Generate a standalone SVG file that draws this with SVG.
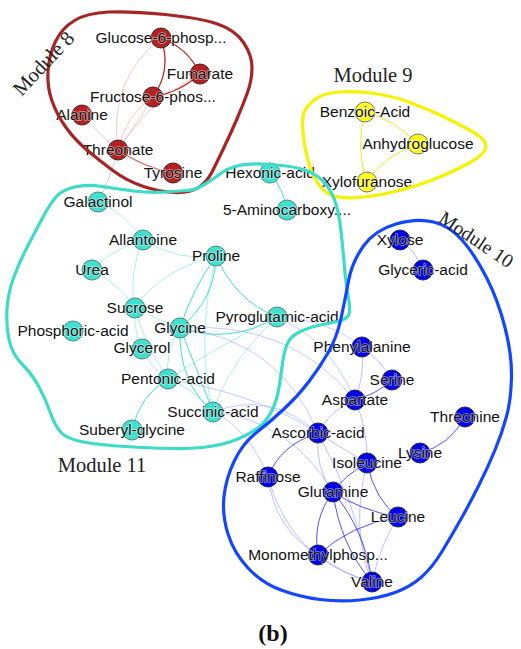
<svg xmlns="http://www.w3.org/2000/svg" width="521" height="649" viewBox="0 0 521 649">
<style>
text{font-family:"Liberation Sans",Arial,sans-serif;font-size:15.5px;fill:#111;text-anchor:middle;stroke:#ffffff;stroke-width:1.6px;stroke-opacity:.55;paint-order:stroke;stroke-linejoin:round}
.mod{font-family:"Liberation Serif","Times New Roman",serif;font-size:20.5px;fill:#222;stroke:none}
.cap{font-family:"Liberation Serif","Times New Roman",serif;font-size:24px;font-weight:bold;fill:#111;stroke:none}
.n8{fill:#b22222;stroke:#5a1a1a;stroke-width:1}
.n9{fill:#ffff1a;stroke:#777;stroke-width:1}
.n11{fill:#40e0d0;stroke:#4a8a84;stroke-width:1}
.n10{fill:#0000e6;stroke:#222266;stroke-width:1}
.e{fill:none;stroke-width:1}
.r{stroke:#b82a2a;stroke-width:1.3}
.rf{stroke:#e6a6a6;opacity:.6}
.y{stroke:#eaea20}
.t{stroke:#40e0d0}
.tf{stroke:#40e0d0;opacity:.45}
.lb{stroke:#7a8cff;opacity:.45}
.b{stroke:#3333ff;opacity:.85}
.bf{stroke:#8888ff;opacity:.55}
.hull{fill:none;stroke-width:3.2}
</style>
<g id="connectors">
<path class="e r" d="M161,38 Q188,48 200,74"/>
<path class="e r" d="M161,38 Q172,70 153,97"/>
<path class="e r" d="M200,74 Q180,92 153,97"/>
<path class="e r" style="opacity:.7" d="M118,150 Q145,168 173,173"/>
<path class="e rf" d="M82,115 Q100,135 118,150"/>
<path class="e rf" d="M118,150 Q108,80 161,38"/>
<path class="e rf" d="M118,150 Q125,115 153,97"/>
<path class="e rf" d="M118,150 Q140,118 153,97"/>
<path class="e rf" d="M118,150 Q150,100 200,74"/>
<path class="e" style="stroke:#cccccc" d="M118,150 Q110,180 98,202"/>
<path class="e y" d="M365,112 Q395,120 418,144"/>
<path class="e y" d="M365,112 Q355,148 367,182"/>
<path class="e y" d="M418,144 Q385,155 367,182"/>
<path class="e t" d="M270,173 Q283,188 287,210"/>
<path class="e tf" d="M98,202 Q125,212 143,240"/>
<path class="e tf" d="M143,240 Q110,250 92,270"/>
<path class="e tf" d="M143,240 Q180,262 216,256"/>
<path class="e tf" d="M143,240 Q128,275 135,308"/>
<path class="e tf" d="M92,270 Q120,285 135,308"/>
<path class="e tf" d="M216,256 Q160,270 135,308"/>
<path class="e t" d="M216,256 Q192,290 180,328"/>
<path class="e t" d="M216,256 Q215,300 180,328"/>
<path class="e t" d="M216,256 Q235,300 277,317"/>
<path class="e tf" d="M216,256 Q195,340 213,412"/>
<path class="e tf" d="M135,308 Q133,330 142,348"/>
<path class="e tf" d="M135,308 Q145,345 168,379"/>
<path class="e tf" d="M135,308 Q160,320 180,328"/>
<path class="e t" d="M180,328 Q230,345 277,317"/>
<path class="e tf" d="M180,328 Q165,350 168,379"/>
<path class="e t" d="M180,328 Q178,382 213,412"/>
<path class="e t" d="M180,328 Q198,372 213,412"/>
<path class="e tf" d="M142,348 Q150,368 168,379"/>
<path class="e t" d="M168,379 Q140,395 132,430"/>
<path class="e tf" d="M168,379 Q195,390 213,412"/>
<path class="e tf" d="M277,317 Q230,360 213,412"/>
<path class="e tf" d="M277,317 Q220,345 168,379"/>
<path class="e lb" d="M180,328 Q280,340 318,433"/>
<path class="e lb" d="M180,328 Q290,320 355,400"/>
<path class="e lb" d="M277,317 Q330,320 362,347"/>
<path class="e lb" d="M277,317 Q330,340 355,400"/>
<path class="e lb" d="M213,412 Q270,390 318,433"/>
<path class="e lb" d="M213,412 Q250,430 268,477"/>
<path class="e lb" d="M168,379 Q260,395 318,433"/>
<path class="e lb" d="M213,412 Q290,420 333,492"/>
<path class="e bf" d="M400,240 Q415,250 423,270"/>
<path class="e bf" d="M362,347 Q380,360 392,380"/>
<path class="e bf" d="M362,347 Q365,375 355,400"/>
<path class="e b" d="M392,380 Q375,395 355,400"/>
<path class="e bf" d="M355,400 Q330,410 318,433"/>
<path class="e bf" d="M355,400 Q368,430 367,463"/>
<path class="e b" d="M465,417 Q450,445 420,453"/>
<path class="e bf" d="M420,453 Q395,462 367,463"/>
<path class="e b" d="M318,433 Q280,445 268,477"/>
<path class="e bf" d="M318,433 Q345,450 367,463"/>
<path class="e bf" d="M318,433 Q315,470 333,492"/>
<path class="e bf" d="M318,433 Q355,500 372,582"/>
<path class="e bf" d="M268,477 Q275,530 318,555"/>
<path class="e bf" d="M268,477 Q290,560 372,582"/>
<path class="e b" d="M367,463 Q345,475 333,492"/>
<path class="e b" d="M367,463 Q375,500 398,517"/>
<path class="e bf" d="M367,463 Q350,530 372,582"/>
<path class="e b" d="M333,492 Q360,510 398,517"/>
<path class="e b" d="M333,492 Q312,520 318,555"/>
<path class="e b" d="M333,492 Q340,545 372,582"/>
<path class="e b" d="M333,492 Q365,530 372,582"/>
<path class="e b" d="M398,517 Q350,525 318,555"/>
<path class="e bf" d="M398,517 Q380,545 372,582"/>
<path class="e bf" d="M318,555 Q345,575 372,582"/>
</g>
<g id="Glucose-6-phosp"><circle class="n8" cx="161" cy="38" r="10"/><text x="161" y="43">Glucose-6-phosp...</text></g>
<g id="Fumarate"><circle class="n8" cx="200" cy="74" r="10"/><text x="200" y="79">Fumarate</text></g>
<g id="Fructose-6-phos"><circle class="n8" cx="153" cy="97" r="10"/><text x="153" y="102">Fructose-6-phos...</text></g>
<g id="Alanine"><circle class="n8" cx="82" cy="115" r="10"/><text x="82" y="120">Alanine</text></g>
<g id="Threonate"><circle class="n8" cx="118" cy="150" r="10"/><text x="118" y="155">Threonate</text></g>
<g id="Tyrosine"><circle class="n8" cx="173" cy="173" r="10"/><text x="173" y="178">Tyrosine</text></g>
<g id="Benzoic-Acid"><circle class="n9" cx="365" cy="112" r="10"/><text x="365" y="117">Benzoic-Acid</text></g>
<g id="Anhydroglucose"><circle class="n9" cx="418" cy="144" r="10"/><text x="418" y="149">Anhydroglucose</text></g>
<g id="Xylofuranose"><circle class="n9" cx="367" cy="182" r="10"/><text x="367" y="187">Xylofuranose</text></g>
<g id="Hexonic-acid"><circle class="n11" cx="270" cy="173" r="10"/><text x="270" y="178">Hexonic-acid</text></g>
<g id="Aminocarboxy"><circle class="n11" cx="287" cy="210" r="10"/><text x="287" y="215">5-Aminocarboxy....</text></g>
<g id="Galactinol"><circle class="n11" cx="98" cy="202" r="10"/><text x="98" y="207">Galactinol</text></g>
<g id="Allantoine"><circle class="n11" cx="143" cy="240" r="10"/><text x="143" y="245">Allantoine</text></g>
<g id="Urea"><circle class="n11" cx="92" cy="270" r="10"/><text x="92" y="275">Urea</text></g>
<g id="Proline"><circle class="n11" cx="216" cy="256" r="10"/><text x="216" y="261">Proline</text></g>
<g id="Sucrose"><circle class="n11" cx="135" cy="308" r="10"/><text x="135" y="313">Sucrose</text></g>
<g id="Phosphoric-acid"><circle class="n11" cx="73" cy="331" r="10"/><text x="73" y="336">Phosphoric-acid</text></g>
<g id="Glycine"><circle class="n11" cx="180" cy="328" r="10"/><text x="180" y="333">Glycine</text></g>
<g id="Pyroglutamic-acid"><circle class="n11" cx="277" cy="317" r="10"/><text x="277" y="322">Pyroglutamic-acid</text></g>
<g id="Glycerol"><circle class="n11" cx="142" cy="349" r="10"/><text x="142" y="353">Glycerol</text></g>
<g id="Pentonic-acid"><circle class="n11" cx="168" cy="379" r="10"/><text x="168" y="384">Pentonic-acid</text></g>
<g id="Succinic-acid"><circle class="n11" cx="213" cy="412" r="10"/><text x="213" y="417">Succinic-acid</text></g>
<g id="Suberyl-glycine"><circle class="n11" cx="132" cy="430" r="10"/><text x="132" y="435">Suberyl-glycine</text></g>
<g id="Xylose"><circle class="n10" cx="400" cy="240" r="10"/><text x="400" y="245">Xylose</text></g>
<g id="Glyceric-acid"><circle class="n10" cx="423" cy="270" r="10"/><text x="423" y="275">Glyceric-acid</text></g>
<g id="Phenylalanine"><circle class="n10" cx="362" cy="347" r="10"/><text x="362" y="352">Phenylalanine</text></g>
<g id="Serine"><circle class="n10" cx="392" cy="380" r="10"/><text x="392" y="385">Serine</text></g>
<g id="Aspartate"><circle class="n10" cx="355" cy="400" r="10"/><text x="355" y="405">Aspartate</text></g>
<g id="Threonine"><circle class="n10" cx="465" cy="417" r="10"/><text x="465" y="422">Threonine</text></g>
<g id="Ascorbic-acid"><circle class="n10" cx="318" cy="433" r="10"/><text x="318" y="438">Ascorbic-acid</text></g>
<g id="Lysine"><circle class="n10" cx="420" cy="453" r="10"/><text x="420" y="458">Lysine</text></g>
<g id="Isoleucine"><circle class="n10" cx="367" cy="463" r="10"/><text x="367" y="468">Isoleucine</text></g>
<g id="Raffinose"><circle class="n10" cx="268" cy="477" r="10"/><text x="268" y="482">Raffinose</text></g>
<g id="Glutamine"><circle class="n10" cx="333" cy="492" r="10"/><text x="333" y="497">Glutamine</text></g>
<g id="Leucine"><circle class="n10" cx="398" cy="517" r="10"/><text x="398" y="522">Leucine</text></g>
<g id="Monomethylphosp"><circle class="n10" cx="318" cy="555" r="10"/><text x="318" y="560">Monomethylphosp...</text></g>
<g id="Valine"><circle class="n10" cx="372" cy="582" r="10"/><text x="372" y="587">Valine</text></g>
<g id="modules">
<path id="hull8" class="hull" stroke="#a82424" d="M74.5,20.5 Q87,13 108.5,12 Q130,11 165,14.5 Q200,18 217.5,24 Q235,30 243.5,42.5 Q252,55 252,67.5 Q252,80 247.5,92.5 Q243,105 236.5,120 Q230,135 223.5,148.5 Q217,162 212,172 Q207,182 198.5,187.5 Q190,193 175,192.5 Q160,192 143.5,186.5 Q127,181 113.5,171 Q100,161 87.5,150.5 Q75,140 66,127.5 Q57,115 52,101 Q47,87 48,71 Q49,55 55.5,41.5 Q62,28 74.5,20.5 Z"/>
<path id="hull9" class="hull" stroke="#f6f300" d="M303.5,114 Q305,108 313.5,100.5 Q322,93 339.5,92 Q357,91 374.5,93.5 Q392,96 408.5,102 Q425,108 440,115 Q455,122 469.5,130 Q484,138 485.5,144 Q487,150 481,155 Q475,160 462.5,166.5 Q450,173 433.5,179.5 Q417,186 397,191 Q377,196 358.5,197.5 Q340,199 331,195 Q322,191 316.5,181.5 Q311,172 307.5,158.5 Q304,145 303,132.5 Q302,120 303.5,114 Z"/>
<path id="hull11" class="hull" stroke="#3ddcc9" d="M56,197 Q62,190 74.5,187 Q87,184 102,186.5 Q117,189 133.5,191 Q150,193 165,192 Q180,191 187.5,190.5 Q195,190 203.5,185 Q212,180 220,174 Q228,168 239,165.5 Q250,163 271.5,164.5 Q293,166 304.5,170 Q316,174 323,181 Q330,188 334.5,200 Q339,212 341,231 Q343,250 344.5,267.5 Q346,285 348.5,298.5 Q351,312 348,316 Q345,320 337.5,321.5 Q330,323 318.5,325.5 Q307,328 298.5,332.5 Q290,337 287,344.5 Q284,352 282.5,363.5 Q281,375 279,387.5 Q277,400 272,410.5 Q267,421 258.5,427.5 Q250,434 238,439 Q226,444 209.5,446.5 Q193,449 171.5,448.5 Q150,448 125,446.5 Q100,445 83.5,442 Q67,439 61,432.5 Q55,426 50.5,413 Q46,400 39,387 Q32,374 22,364 Q12,354 9,339.5 Q6,325 7,309 Q8,293 13.5,278 Q19,263 27.5,246.5 Q36,230 43,217 Q50,204 56,197 Z"/>
<path id="hull10" class="hull" stroke="#1446ff" d="M396,224 Q417,218 433.5,222 Q450,226 462.5,240.5 Q475,255 486.5,277.5 Q498,300 505,327.5 Q512,355 511.5,377.5 Q511,400 506.5,416.5 Q502,433 495,450 Q488,467 479,485 Q470,503 461,519 Q452,535 442,551.5 Q432,568 421,577.5 Q410,587 395,592.5 Q380,598 360,600 Q340,602 320,599.5 Q300,597 281,590 Q262,583 248,568 Q234,553 228,534 Q222,515 224,496.5 Q226,478 234.5,460.5 Q243,443 256.5,432.5 Q270,422 284,409 Q298,396 309,381.5 Q320,367 328.5,352 Q337,337 341,318.5 Q345,300 348.5,281 Q352,262 363.5,246 Q375,230 396,224 Z"/>
<text class="mod" transform="translate(44,64) rotate(-47)" x="0" y="6">Module 8</text>
<text class="mod" x="373" y="82">Module 9</text>
<text class="mod" transform="translate(476,240) rotate(34)" x="0" y="6" style="font-size:19.5px">Module 10</text>
<text class="mod" x="102" y="472">Module 11</text>
</g>
<text class="cap" x="273" y="641">(b)</text>
</svg>
